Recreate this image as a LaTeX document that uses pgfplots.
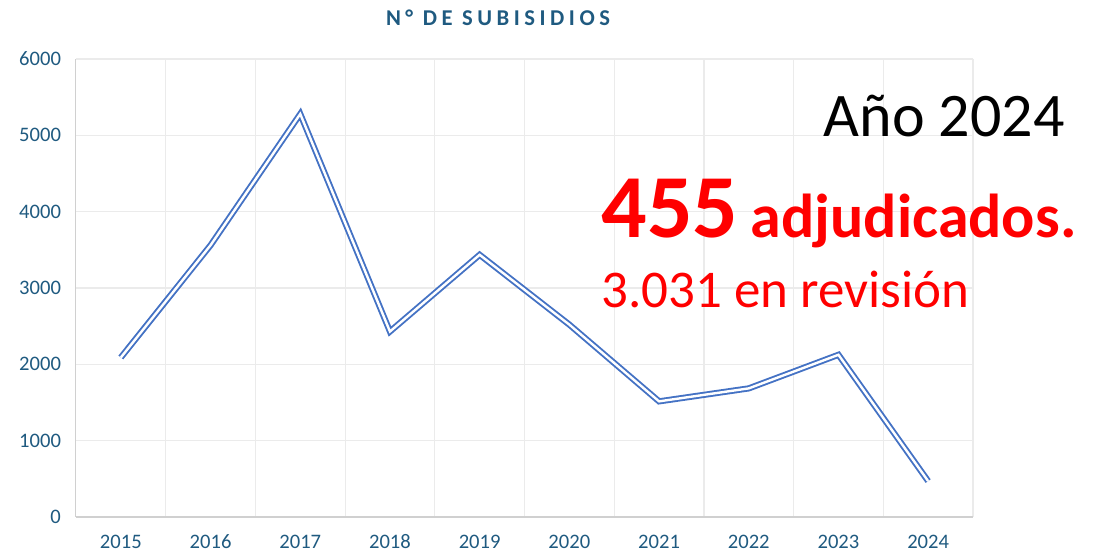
\documentclass[border=0pt]{standalone}
\usepackage{fontspec}
\setmainfont{Carlito}
\newfontfamily\titlefont[LetterSpace=20]{Carlito}
\usepackage{pgfplots}
\pgfplotsset{compat=1.18}

\definecolor{linecol}{HTML}{4472C4}
\definecolor{labcol}{HTML}{1F5A80}
\definecolor{gridcol}{HTML}{EBEBEB}
\definecolor{axcol}{HTML}{D0D0D0}

\begin{document}
\begin{tikzpicture}
\path (-38pt,-17.5pt) rectangle (508.5pt,258.5pt);
\begin{axis}[
    at={(0,0)}, anchor=south west,
    scale only axis,
    width=448.5pt, height=229pt,
    xmin=-0.5, xmax=9.5,
    ymin=0, ymax=6000,
    xtick={0,...,9},
    xticklabels={2015,2016,2017,2018,2019,2020,2021,2022,2023,2024},
    minor xtick={0.5,1.5,...,9.5},
    ytick={0,1000,...,6000},
    axis x line*=bottom, axis y line*=left,
    x axis line style={draw=axcol, line width=0.6pt, -},
    y axis line style={draw=axcol, line width=0.5pt, -},
    major tick length=0pt, minor tick length=0pt,
    ymajorgrids, xminorgrids,
    grid style={draw=gridcol, line width=0.6pt},
    minor grid style={draw=gridcol, line width=0.6pt},
    ticklabel style={font=\fontsize{10.3}{12}\selectfont, text=labcol},
    /pgf/number format/assume math mode=true,
    /pgf/number format/1000 sep={},
    scaled y ticks=false,
    xticklabel style={yshift=-5pt, text height=7pt, text depth=0pt},
    yticklabel style={xshift=-4pt},
]
\addplot[draw=linecol, line width=0.95pt, double=white, double distance=1.2pt] coordinates {
    (0,2090) (1,3560) (2,5280) (3,2430) (4,3435)
    (5,2520) (6,1515) (7,1685) (8,2125) (9,470)
};
\end{axis}
\node[font=\titlefont\fontsize{11.3}{13}\bfseries, text=labcol] at (211pt,249.5pt) {N° DE SUBISIDIOS};
\node[anchor=base east, inner sep=0pt, font=\fontsize{31}{36}\selectfont] at (494.5pt,190pt) {Año 2024};
\node[anchor=base west, inner sep=0pt, text=red, font=\bfseries] at (262.5pt,139.5pt)
    {{\fontsize{45}{50}\selectfont 455}\hspace{6.3pt}{\fontsize{31}{36}\selectfont adjudicados.}};
\node[anchor=base west, inner sep=0pt, text=red, font=\fontsize{26.5}{30}\selectfont] at (262.5pt,104.5pt) {3.031 en revisión};
\end{tikzpicture}
\end{document}
